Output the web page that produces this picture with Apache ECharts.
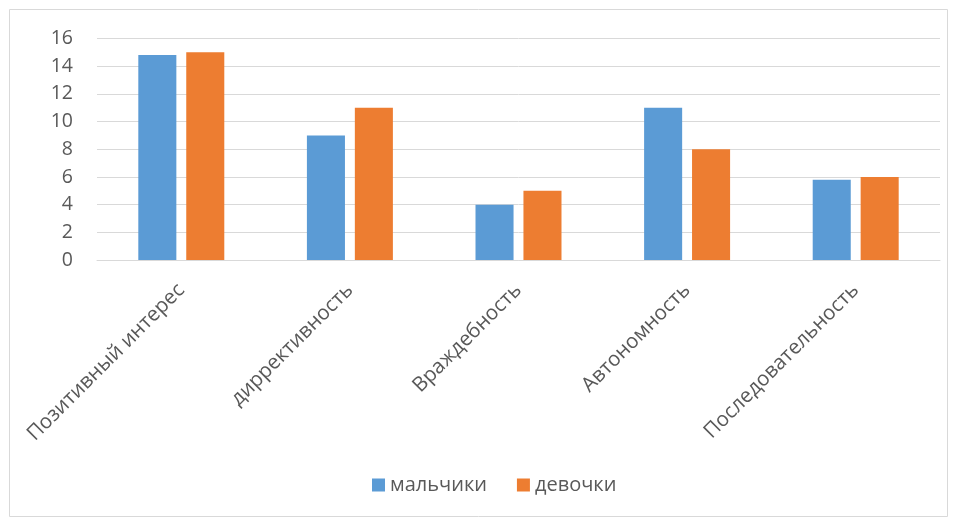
<!DOCTYPE html>
<html><head><meta charset="utf-8">
<script src="https://cdn.jsdelivr.net/npm/echarts@6/dist/echarts.min.js"></script>
<style>html,body{margin:0;padding:0;background:#fff}#c{width:956px;height:521px}</style>
</head><body><div id="c"></div>
<script>
const categories = ['Позитивный интерес','диррективность','Враждебность','Автономность','Последовательность'];
const boys = [14.8, 9, 4, 11, 5.8];
const girls = [15, 11, 5, 8, 6];
const seriesNames = ['мальчики','девочки'];
const chart = echarts.init(document.getElementById('c'));
const font = '"Open Sans", "DejaVu Sans", sans-serif';
chart.setOption({
  animation:false,
  textStyle:{fontFamily:font},
  graphic:[{type:'rect',shape:{x:9.5,y:9.5,width:938,height:507},style:{fill:'none',stroke:'#d9d9d9',lineWidth:1}}],
  grid:{left:97,right:16,top:38.5,bottom:261,containLabel:false},
  legend:{bottom:21,left:367,itemWidth:13,itemHeight:13,itemGap:30,icon:'rect',
    textStyle:{fontSize:20,color:'#595959',fontFamily:font},data:seriesNames},
  xAxis:{type:'category',data:categories,
    axisLine:{show:true,lineStyle:{color:'#d9d9d9',width:1}},axisTick:{show:false},
    axisLabel:{rotate:45,fontSize:20.5,color:'#595959',margin:27,interval:0,fontFamily:font}},
  yAxis:{type:'value',min:0,max:16,interval:2,
    axisLine:{show:false},axisTick:{show:false},
    axisLabel:{fontSize:19.5,color:'#595959',margin:24,fontFamily:font},
    splitLine:{lineStyle:{color:'#d9d9d9',width:1}}},
  series:[
    {name:seriesNames[0],type:'bar',data:boys,itemStyle:{color:'#5b9bd5'},barGap:'26%',barCategoryGap:'49%'},
    {name:seriesNames[1],type:'bar',data:girls,itemStyle:{color:'#ed7d31'},barGap:'26%',barCategoryGap:'49%'}
  ]
});
</script></body></html>
